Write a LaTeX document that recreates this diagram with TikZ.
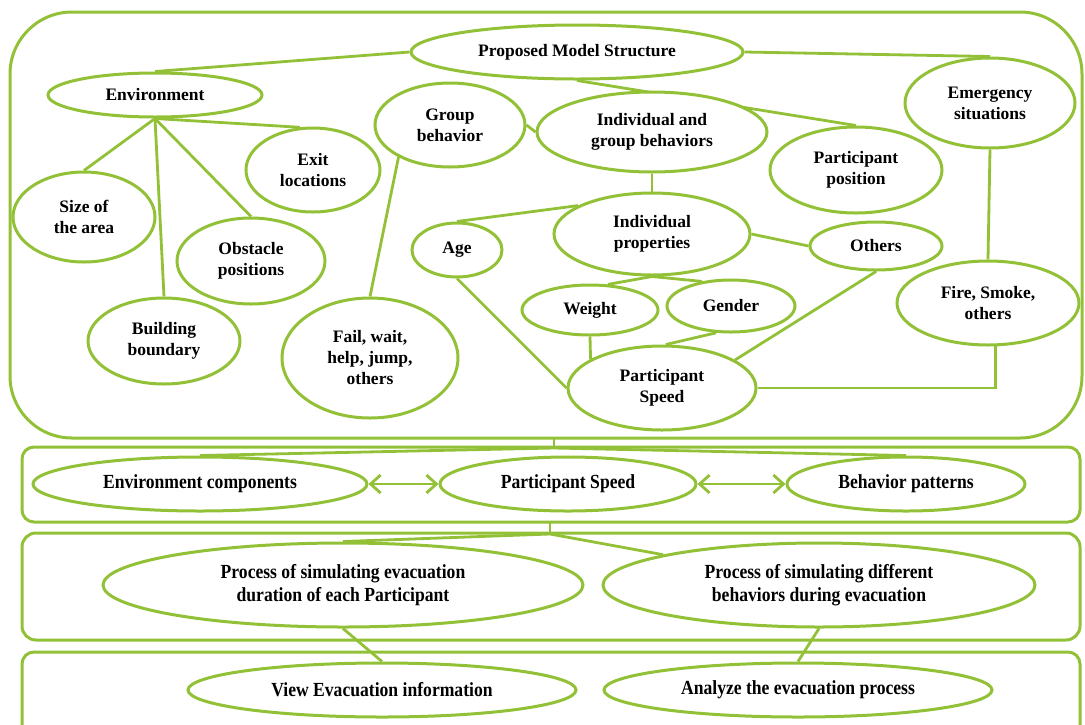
\documentclass[tikz,border=0pt]{standalone}
\usepackage{fontspec}
\setmainfont{Liberation Serif}
\newfontfamily\condfont[FakeStretch=0.88]{Liberation Serif}
\usetikzlibrary{shapes.geometric,arrows.meta}
\definecolor{lg}{RGB}{146,193,55}
\pgfdeclarelayer{bg}
\pgfsetlayers{bg,main}
\tikzset{
  ov/.style={ellipse, draw=lg, line width=3pt, fill=white, inner sep=0pt, align=center,
    font=\fontsize{17.5}{21}\selectfont\bfseries},
  ovb/.style={ov, font=\fontsize{20}{23}\selectfont\condfont\bfseries},
  ln/.style={draw=lg, line width=2.8pt},
  panel/.style={draw=lg, line width=3pt},
  dbl/.style={ln, {Straight Barb[length=10pt,width=18pt]}-{Straight Barb[length=10pt,width=18pt]}}
}
\begin{document}
\begin{tikzpicture}[x=1pt,y=1pt]
\useasboundingbox (0,0) rectangle (1085,-724);
% top section
\node[ov, minimum width=332pt, minimum height=54pt] (prop) at (577,-52) {Proposed Model Structure};
\node[ov, minimum width=214pt, minimum height=44pt] (env) at (155,-95) {Environment};
\node[ov, minimum width=150pt, minimum height=84pt] (gb) at (450,-125) {Group\\behavior};
\node[ov, minimum width=230pt, minimum height=80pt] (igb) at (652,-132) {Individual and\\group behaviors};
\node[ov, minimum width=170pt, minimum height=90pt] (emer) at (990,-103) {Emergency\\situations};
\node[ov, minimum width=134pt, minimum height=84pt] (exit) at (313,-170) {Exit\\locations};
\node[ov, minimum width=172pt, minimum height=86pt] (pp) at (856,-170) {Participant\\position};
\node[ov, minimum width=142pt, minimum height=90pt] (size) at (84,-217) {Size of\\the area};
\node[ov, minimum width=148pt, minimum height=86pt] (obs) at (251,-261) {Obstacle\\positions};
\node[ov, minimum width=152pt, minimum height=86pt] (bb) at (164,-341) {Building\\boundary};
\node[ov, minimum width=176pt, minimum height=120pt] (fail) at (370,-358) {Fail, wait,\\help, jump,\\others};
\node[ov, minimum width=90pt, minimum height=54pt] (age) at (457,-250) {Age};
\node[ov, minimum width=196pt, minimum height=82pt] (ip) at (652,-234) {Individual\\properties};
\node[ov, minimum width=132pt, minimum height=48pt] (oth) at (876,-246) {Others};
\node[ov, minimum width=136pt, minimum height=50pt] (wt) at (590,-310) {Weight};
\node[ov, minimum width=128pt, minimum height=52pt] (gd) at (731,-306) {Gender};
\node[ov, minimum width=188pt, minimum height=84pt] (ps) at (662,-388) {Participant\\Speed};
\node[ov, minimum width=182pt, minimum height=84pt] (fire) at (988,-303) {Fire, Smoke,\\others};
% lower sections
\node[ovb, minimum width=334pt, minimum height=54pt] (envc) at (200,-484) {Environment components};
\node[ovb, minimum width=256pt, minimum height=54pt] (psm) at (568,-484) {Participant Speed};
\node[ovb, minimum width=238pt, minimum height=54pt] (bp) at (906,-484) {Behavior patterns};
\node[ovb, minimum width=480pt, minimum height=84pt] (p1) at (343,-585) {Process of simulating evacuation\\duration of each Participant};
\node[ovb, minimum width=432pt, minimum height=84pt] (p2) at (819,-585) {Process of simulating different\\behaviors during evacuation};
\node[ovb, minimum width=388pt, minimum height=54pt] (view) at (382,-690) {View Evacuation information};
\node[ovb, minimum width=388pt, minimum height=54pt] (an) at (798,-690) {Analyze the evacuation process};
\coordinate (j1) at (554,-438);
\coordinate (j1b) at (554,-448);
\coordinate (j2) at (550,-522);
\coordinate (j2b) at (550,-534);
\begin{pgfonlayer}{bg}
\draw[panel, rounded corners=62pt] (10,-12) rectangle (1082,-438);
\draw[panel, rounded corners=12pt] (22,-447) rectangle (1080,-522);
\draw[panel, rounded corners=14pt] (22,-533) rectangle (1080,-640);
\draw[panel, rounded corners=12pt] (22,-652) rectangle (1080,-740);
% top connectors
\draw[ln] (prop.west) -- (env.north);
\draw[ln] (prop.east) -- (emer.north);
\draw[ln] (prop.south) -- (pp.north);
\draw[ln] (env.south) -- (size.north);
\draw[ln] (env.south) -- (bb.north);
\draw[ln] (env.south) -- (obs.north);
\draw[ln] (env.south) -- (exit.107);
\draw[ln] (gb.east) -- (igb.west);
\draw[ln] (gb.212) -- (fail.north);
\draw[ln] (igb.south) -- (ip.north);
\draw[ln] (age.north) -- (ip.159);
\draw[ln] (age.south) -- (ps.west);
\draw[ln] (ip.east) -- (oth.west);
\draw[ln] (ip.south) -- (wt.55);
\draw[ln] (ip.south) -- (gd.140);
\draw[ln] (wt.south) -- (ps.158);
\draw[ln] (gd.241) -- (ps.85);
\draw[ln] (oth.south) -- (ps.21);
\draw[ln] (emer.south) -- (fire.north);
\draw[ln] (ps.east) -| (fire.280);
% lower connectors
\draw[ln] (j1) -- (j1b);
\draw[ln] (j1b) -- (envc.north);
\draw[ln] (j1b) -- (bp.north);
\draw[ln] (j2) -- (j2b);
\draw[ln] (j2b) -- (p1.north);
\draw[ln] (j2b) -- (p2.169);
\draw[ln] (p1.south) -- (view.north);
\draw[ln] (p2.south) -- (an.north);
\end{pgfonlayer}
\draw[dbl] (envc.east) -- (psm.west);
\draw[dbl] (psm.east) -- (bp.west);
\end{tikzpicture}
\end{document}
